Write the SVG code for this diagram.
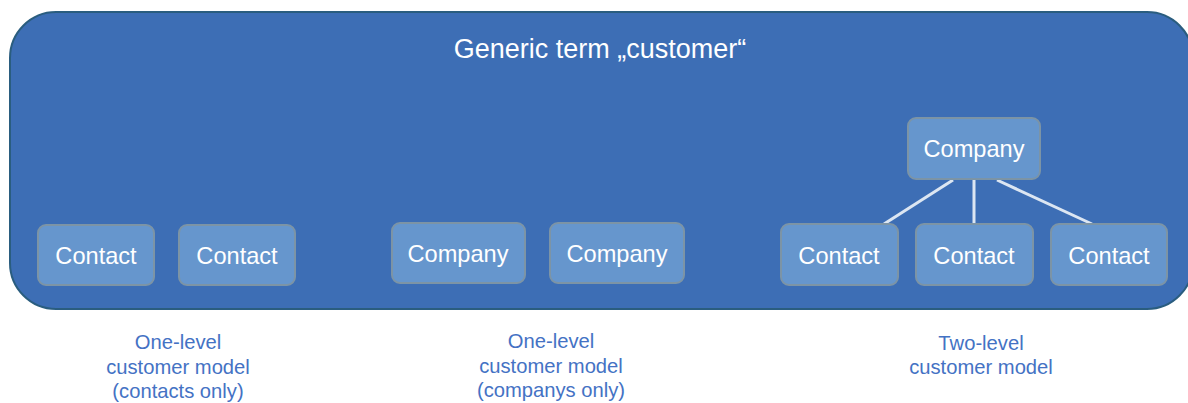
<svg xmlns="http://www.w3.org/2000/svg" width="1188" height="403" viewBox="0 0 1188 403">
<style>
.node rect{fill:#6696cd;stroke:#7c94a6;stroke-width:2}
.node text{fill:#fff;font-family:"Liberation Sans",Arial,sans-serif;font-size:23.6px;text-anchor:middle}
.lbl{fill:#4472c4;font-family:"Liberation Sans",Arial,sans-serif;font-size:20.2px;text-anchor:middle}
.conn line{stroke:#dce6f2;stroke-width:3}
</style>
<g id="container">
<rect x="10" y="12" width="1183" height="297" rx="46" ry="46" fill="#3d6eb5" stroke="#2a5d7f" stroke-width="2"/>
<text x="600" y="58" fill="#fff" font-family="Liberation Sans, Arial, sans-serif" font-size="27" text-anchor="middle">Generic term „customer“</text>
</g>
<g id="connectors" class="conn">
<line x1="953" y1="180" x2="884" y2="224"/>
<line x1="974" y1="180" x2="974" y2="224"/>
<line x1="997" y1="180" x2="1092" y2="224"/>
</g>
<g id="contact1" class="node"><rect x="38" y="225" width="116" height="60" rx="8"/><text x="96" y="264">Contact</text></g>
<g id="contact2" class="node"><rect x="179" y="225" width="116" height="60" rx="8"/><text x="237" y="264">Contact</text></g>
<g id="company1" class="node"><rect x="392" y="223" width="133" height="60" rx="8"/><text x="458" y="262">Company</text></g>
<g id="company2" class="node"><rect x="550" y="223" width="134" height="60" rx="8"/><text x="617" y="262">Company</text></g>
<g id="company3" class="node"><rect x="908" y="118" width="132" height="61" rx="8"/><text x="974" y="157">Company</text></g>
<g id="contact3" class="node"><rect x="781" y="224" width="117" height="61" rx="8"/><text x="839" y="264">Contact</text></g>
<g id="contact4" class="node"><rect x="916" y="224" width="117" height="61" rx="8"/><text x="974" y="264">Contact</text></g>
<g id="contact5" class="node"><rect x="1051" y="224" width="116" height="61" rx="8"/><text x="1109" y="264">Contact</text></g>
<g id="labels">
<text class="lbl" x="178" y="349">One-level</text>
<text class="lbl" x="178" y="374">customer model</text>
<text class="lbl" x="178" y="398">(contacts only)</text>
<text class="lbl" x="551" y="348">One-level</text>
<text class="lbl" x="551" y="373">customer model</text>
<text class="lbl" x="551" y="397">(companys only)</text>
<text class="lbl" x="981" y="350">Two-level</text>
<text class="lbl" x="981" y="374">customer model</text>
</g>
</svg>
